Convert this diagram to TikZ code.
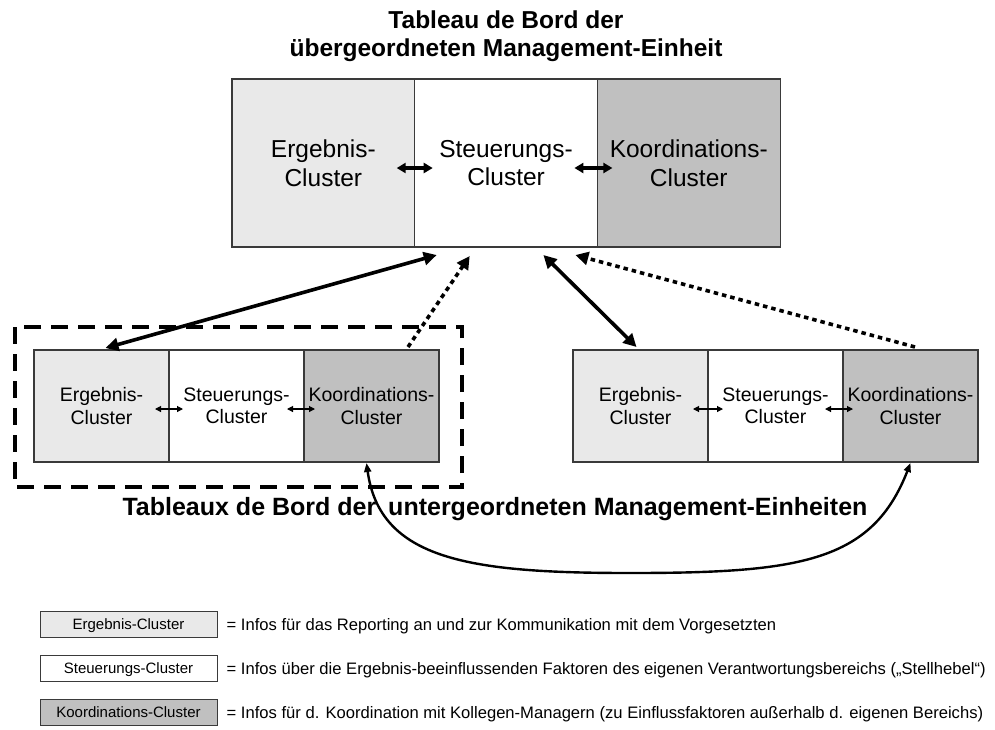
\documentclass[tikz,border=0pt]{standalone}
\usepackage{fontspec}
\setmainfont{Liberation Sans}
\usetikzlibrary{arrows.meta,calc}

\definecolor{ergfill}{HTML}{E9E9E9}
\definecolor{koofill}{HTML}{C0C0C0}
\definecolor{edge}{HTML}{3A3A3A}

\tikzset{
  cell/.style={draw=edge, line width=1.2pt, inner sep=0pt, outer sep=0pt, align=center, anchor=north west},
  topcell/.style={cell, minimum width=182.7pt, minimum height=168pt,
    font=\fontsize{24.5}{28.5}\selectfont},
  subcell/.style={cell, minimum width=135pt, minimum height=112pt,
    font=\fontsize{19.5}{22.5}\selectfont},
  legendcell/.style={draw=edge, line width=1pt, inner sep=0pt, minimum width=177pt,
    minimum height=26pt, text height=12pt, text depth=2pt, font=\fontsize{15}{17}\selectfont},
  legendtext/.style={anchor=base west, inner sep=0pt, font=\fontsize{16.6}{18}\selectfont},
  heading/.style={align=center, inner sep=0pt, font=\fontsize{24.5}{27.5}\selectfont\bfseries},
  innerthick/.style={line width=3.2pt, {Triangle[length=9pt,width=10pt]}-{Triangle[length=9pt,width=10pt]}},
  innerthin/.style={line width=1.1pt, {Triangle[length=6pt,width=6pt]}-{Triangle[length=6pt,width=6pt]}},
  linkarrow/.style={line width=3.6pt, {Triangle[length=13pt,width=13pt]}-{Triangle[length=13pt,width=13pt]}},
  infoarrow/.style={line width=3.6pt, dash pattern=on 4.5pt off 4pt, -{Triangle[length=13pt,width=13pt]}},
  peerarrow/.style={line width=2.4pt, {Triangle[length=9pt,width=7pt]}-{Triangle[length=9pt,width=7pt]}},
  dashframe/.style={line width=3.6pt, dash pattern=on 17pt off 10pt}
}

\begin{document}
\begin{tikzpicture}[x=1pt,y=-1pt]
\useasboundingbox (0,0) rectangle (995,729);

% heading of the superior unit
\node[heading] (toptitle) at (506,36) {Tableau de Bord der\\übergeordneten Management-Einheit};

% cockpit of the superior unit
\node[topcell, fill=ergfill] (tE) at (232,79) {Ergebnis-\\Cluster};
\node[topcell, fill=white] (tS) at (tE.north east) {Steuerungs-\\Cluster};
\node[topcell, fill=koofill] (tK) at (tS.north east) {Koordinations-\\Cluster};
\draw[innerthick] ([shift={(-18,5)}]tE.east) -- ([shift={(18,5)}]tS.west);
\draw[innerthick] ([shift={(-23,5)}]tS.east) -- ([shift={(15,5)}]tK.west);

% dashed frame around the first subordinate unit
\draw[dashframe] (15,327) rectangle (462,487);

% cockpit of the first subordinate unit
\node[subcell, fill=ergfill] (lE) at (34,350) {Ergebnis-\\Cluster};
\node[subcell, fill=white] (lS) at (lE.north east) {Steuerungs-\\Cluster};
\node[subcell, fill=koofill] (lK) at (lS.north east) {Koordinations-\\Cluster};
\draw[innerthin] ([shift={(-14,3)}]lE.east) -- ([shift={(14,3)}]lS.west);
\draw[innerthin] ([shift={(-17,3)}]lS.east) -- ([shift={(11,3)}]lK.west);

% cockpit of the second subordinate unit
\node[subcell, fill=ergfill] (rE) at (573,350) {Ergebnis-\\Cluster};
\node[subcell, fill=white] (rS) at (rE.north east) {Steuerungs-\\Cluster};
\node[subcell, fill=koofill] (rK) at (rS.north east) {Koordinations-\\Cluster};
\draw[innerthin] ([shift={(-15,3)}]rE.east) -- ([shift={(15,3)}]rS.west);
\draw[innerthin] ([shift={(-18,3)}]rS.east) -- ([shift={(10,3)}]rK.west);

% heading of the subordinate units
\node[heading, anchor=base, font=\fontsize{25}{28}\selectfont\bfseries] (subtitle) at (495,515)
  {Tableaux de Bord der\hspace{5pt} untergeordneten Management-Einheiten};

% links between the levels
\draw[linkarrow] ([shift={(4,-2)}]lE.north) -- ([shift={(22,8)}]tS.south west);
\draw[infoarrow] ([shift={(-31,-3)}]lK.north east) -- ([shift={(55,9)}]tS.south west);
\draw[linkarrow] ([shift={(-54,8)}]tS.south east) -- ([shift={(-4,-3)}]rE.north);
\draw[infoarrow] ([shift={(-63,-3)}]rK.north east) -- ([shift={(-22,8)}]tS.south east);

% coordination between the subordinate units
\draw[peerarrow] ([shift={(-5,1)}]lK.south)
  .. controls (380,560) and (470,573) .. (630,573)
  .. controls (800,573) and (872,562) .. ([shift={(0,1)}]rK.south);

% legend
\node[legendcell, fill=ergfill] (lg1) at (128.5,624) {Ergebnis-Cluster};
\node[legendcell, fill=white] (lg2) at (128.5,668) {Steuerungs-Cluster};
\node[legendcell, fill=koofill] (lg3) at (128.5,712) {Koordinations-Cluster};
\node[legendtext] (lt1) at ([shift={(9,6)}]lg1.east) {= Infos für das Reporting an und zur Kommunikation mit dem Vorgesetzten};
\node[legendtext] (lt2) at ([shift={(9,6)}]lg2.east) {= Infos über die Ergebnis-beeinflussenden Faktoren des eigenen Verantwortungsbereichs („Stellhebel“)};
\node[legendtext] (lt3) at ([shift={(9,6)}]lg3.east) {= Infos für d. Koordination mit Kollegen-Managern (zu Einflussfaktoren außerhalb d. eigenen Bereichs)};
\end{tikzpicture}
\end{document}
